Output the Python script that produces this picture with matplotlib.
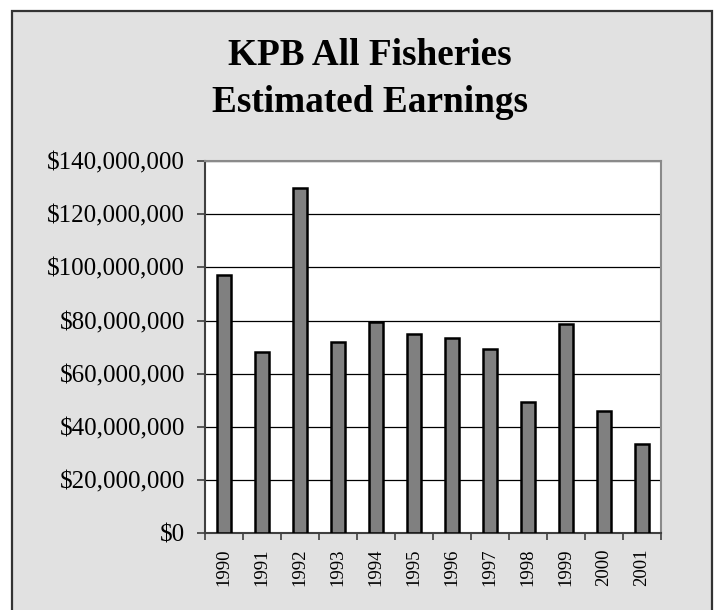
import matplotlib.pyplot as plt
from matplotlib.patches import Rectangle
from matplotlib.ticker import FuncFormatter, MultipleLocator

# data
years = ["1990", "1991", "1992", "1993", "1994", "1995",
         "1996", "1997", "1998", "1999", "2000", "2001"]
earnings = [97.0e6, 68.2e6, 130.0e6, 71.8e6, 79.5e6, 75.0e6,
            73.5e6, 69.2e6, 49.5e6, 78.8e6, 46.0e6, 33.7e6]
title_lines = ["KPB All Fisheries", "Estimated Earnings"]

plt.rcParams['font.family'] = ['Liberation Serif', 'DejaVu Serif']

fig = plt.figure(figsize=(7.18, 6.10), dpi=100, facecolor='white')

# grey chart-area box (bottom edge runs off the picture)
fig.patches.append(Rectangle((12 / 718, -0.05), 700 / 718, 1 - 11 / 610 + 0.05,
                             transform=fig.transFigure, facecolor='#e1e1e1',
                             edgecolor='#333333', linewidth=1.6, zorder=-10))

ax = fig.add_axes([205 / 718, 1 - 533.3 / 610, 456 / 718, 372.3 / 610])
ax.set_facecolor('white')

x = range(len(years))
ax.bar(x, earnings, width=0.38, color='#808080', edgecolor='black',
       linewidth=1.8, zorder=3)

ax.set_xlim(-0.5, len(years) - 0.5)
ax.set_ylim(0, 140e6)
ax.yaxis.set_major_locator(MultipleLocator(20e6))
ax.yaxis.set_major_formatter(FuncFormatter(lambda v, p: "${:,.0f}".format(v)))
ax.grid(axis='y', color='black', linewidth=0.9, zorder=1)

# year labels at the centres, tick marks between categories
ax.set_xticks(list(x))
ax.set_xticklabels(years, rotation=90, fontsize=13.5)
ax.set_xticks([i - 0.5 for i in range(len(years) + 1)], minor=True)
ax.tick_params(axis='x', which='major', length=0, pad=11)
ax.tick_params(axis='x', which='minor', length=5, width=1.2, color='#404040')
ax.tick_params(axis='y', labelsize=18, length=6, width=1.2,
               color='#404040', pad=8.5)

for side in ['top', 'right']:
    ax.spines[side].set_color('#8a8a8a')
    ax.spines[side].set_linewidth(1.5)
for side in ['left', 'bottom']:
    ax.spines[side].set_color('#404040')
    ax.spines[side].set_linewidth(1.5)

fig.text(370 / 718, 1 - 65 / 610, title_lines[0], ha='center', va='baseline',
         fontsize=26.8, fontweight='bold')
fig.text(370 / 718, 1 - 111.7 / 610, title_lines[1], ha='center', va='baseline',
         fontsize=26.8, fontweight='bold')

fig.savefig('out.png', dpi=100, facecolor='white')
